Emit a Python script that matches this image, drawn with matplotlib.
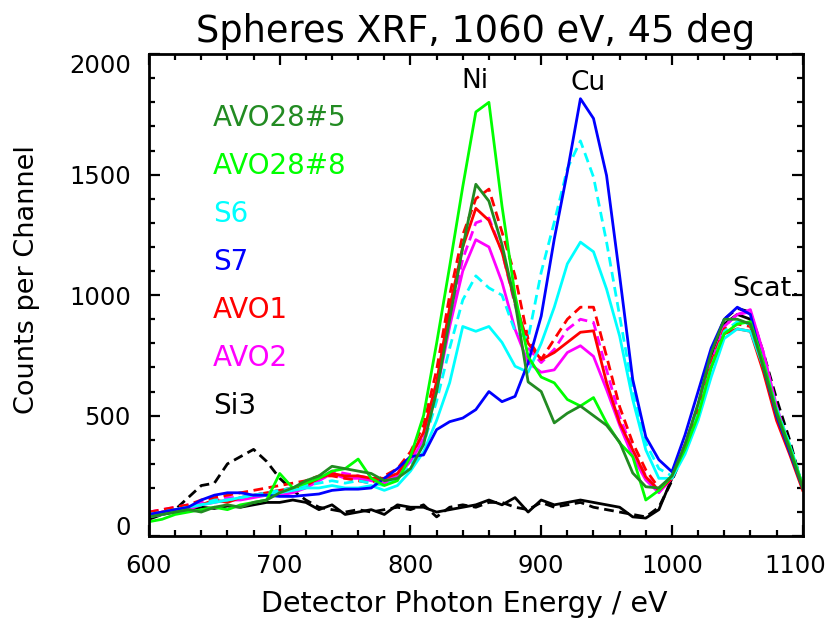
import numpy as np
import matplotlib
matplotlib.use('Agg')
import matplotlib.pyplot as plt
import matplotlib.transforms as mtransforms
from matplotlib.ticker import MultipleLocator

# Energy grid (eV) and counts per channel
energy = np.arange(600, 1101, 10)

avo28_5 = [80, 90, 100, 110, 100, 120, 130, 120, 140, 150,
           180, 200, 230, 250, 290, 280, 270, 260, 230, 240,
           280, 380, 600, 900, 1200, 1460, 1390, 1210, 970, 640,
           600, 470, 510, 540, 500, 460, 390, 262, 205, 200,
           250, 380, 550, 760, 900, 900, 880, 700, 510, 360, 200]
avo28_8 = [60, 70, 90, 100, 110, 120, 110, 130, 140, 150,
           260, 200, 220, 240, 270, 280, 320, 240, 210, 230,
           330, 500, 800, 1120, 1450, 1760, 1800, 1370, 1000, 745,
           660, 636, 567, 540, 575, 470, 387, 330, 150, 190,
           250, 360, 500, 700, 840, 880, 890, 720, 520, 370, 210]
s6 = [80, 90, 110, 120, 130, 140, 150, 160, 170, 170,
      180, 190, 200, 200, 210, 200, 200, 210, 190, 210,
      270, 350, 480, 637, 870, 850, 870, 804, 705, 680,
      800, 950, 1130, 1220, 1180, 1025, 830, 567, 358, 240,
      240, 340, 480, 660, 820, 860, 850, 700, 520, 380, 210]
s6_b = [90, 100, 110, 120, 130, 150, 150, 160, 170, 180,
        190, 200, 210, 220, 230, 220, 230, 220, 210, 240,
        290, 380, 560, 780, 980, 1080, 1030, 1000, 850, 820,
        1095, 1303, 1525, 1640, 1490, 1220, 913, 608, 387, 280,
        250, 360, 510, 700, 850, 890, 880, 720, 530, 380, 210]
s7 = [90, 100, 110, 120, 150, 170, 180, 180, 170, 170,
      165, 165, 170, 175, 190, 195, 195, 200, 240, 280,
      330, 337, 442, 475, 490, 525, 600, 558, 580, 720,
      913, 1233, 1512, 1815, 1733, 1496, 1080, 650, 412, 317,
      267, 420, 600, 780, 900, 950, 920, 700, 500, 350, 200]
avo1 = [90, 100, 110, 120, 130, 150, 140, 160, 170, 180,
        190, 200, 210, 240, 260, 250, 250, 240, 240, 260,
        330, 430, 640, 950, 1200, 1360, 1310, 1180, 970, 800,
        733, 762, 804, 846, 852, 637, 470, 358, 246, 190,
        240, 370, 520, 700, 840, 860, 850, 680, 480, 340, 190]
avo1_b = [100, 110, 120, 130, 150, 160, 170, 180, 190, 200,
          210, 220, 230, 250, 250, 240, 230, 220, 250, 280,
          350, 460, 690, 1000, 1250, 1400, 1440, 1262, 1080, 817,
          733, 817, 900, 950, 950, 746, 537, 387, 275, 200,
          245, 380, 540, 720, 860, 880, 870, 700, 500, 350, 200]
avo2 = [90, 100, 110, 110, 130, 140, 150, 150, 160, 170,
        170, 180, 200, 230, 260, 240, 240, 230, 220, 250,
        310, 400, 600, 870, 1100, 1230, 1200, 1054, 858, 720,
        680, 690, 762, 790, 746, 608, 460, 330, 233, 180,
        240, 380, 540, 720, 870, 920, 940, 760, 540, 370, 210]
avo2_b = [100, 110, 120, 130, 140, 150, 160, 160, 170, 180,
          190, 200, 210, 240, 270, 260, 250, 240, 230, 260,
          330, 420, 620, 900, 1150, 1300, 1320, 1180, 960, 780,
          720, 775, 858, 900, 887, 690, 496, 358, 250, 190,
          245, 370, 530, 720, 870, 920, 930, 760, 530, 360, 205]
si3 = [70, 90, 100, 110, 120, 115, 125, 120, 130, 140,
       140, 150, 140, 110, 130, 90, 100, 110, 90, 130,
       120, 120, 100, 110, 120, 130, 150, 130, 160, 100,
       150, 130, 140, 150, 140, 130, 120, 80, 75, 110,
       240, 370, 540, 740, 880, 920, 900, 720, 520, 360, 200]
si3_b = [80, 90, 110, 160, 210, 220, 300, 330, 360, 310,
         240, 190, 150, 120, 110, 100, 110, 100, 110, 120,
         110, 130, 80, 120, 130, 120, 140, 140, 120, 110,
         140, 120, 130, 140, 120, 110, 100, 90, 80, 120,
         230, 360, 540, 760, 900, 945, 930, 760, 570, 400, 200]

labels = ['AVO28#5', 'AVO28#8', 'S6', 'S7', 'AVO1', 'AVO2', 'Si3']
colors = ['#228B22', '#00FF00', '#00FFFF', '#0000FF', '#FF0000', '#FF00FF', '#000000']

fig = plt.figure(figsize=(8.37, 6.22), dpi=100)
ax = fig.add_axes([0.178, 0.138, 0.781, 0.775])

lw = 2.0
dash = (3.5, 2)
ax.plot(energy, si3_b, color=colors[6], lw=lw, dashes=dash)
ax.plot(energy, si3, color=colors[6], lw=lw)
ax.plot(energy, avo2_b, color=colors[5], lw=lw, dashes=dash)
ax.plot(energy, avo2, color=colors[5], lw=lw)
ax.plot(energy, avo1_b, color=colors[4], lw=lw, dashes=dash)
ax.plot(energy, avo1, color=colors[4], lw=lw)
ax.plot(energy, s6_b, color=colors[2], lw=lw, dashes=dash)
ax.plot(energy, s6, color=colors[2], lw=lw)
ax.plot(energy, s7, color=colors[3], lw=lw)
ax.plot(energy, avo28_8, color=colors[1], lw=lw)
ax.plot(energy, avo28_5, color=colors[0], lw=lw)

ax.set_xlim(600, 1100)
ax.set_ylim(0, 2000)
ax.xaxis.set_major_locator(MultipleLocator(100))
ax.xaxis.set_minor_locator(MultipleLocator(20))
ax.yaxis.set_major_locator(MultipleLocator(500))
ax.yaxis.set_minor_locator(MultipleLocator(100))
ax.tick_params(which='both', direction='in', top=True, right=True, width=1.6, labelsize=17.5, pad=13)
ax.tick_params(which='major', length=8)
ax.tick_params(which='minor', length=4.5)
for sp in ax.spines.values():
    sp.set_linewidth(2.0)

ax.set_title('Spheres XRF, 1060 eV, 45 deg', fontsize=26.5, pad=9)
ax.set_xlabel('Detector Photon Energy / eV', fontsize=20.5)
ax.set_ylabel('Counts per Channel', fontsize=19.5)
ax.xaxis.set_label_coords(0.483, -0.112)
ax.yaxis.set_label_coords(-0.166, 0.533)

# sample labels, stacked in the upper left
for i, (lab, c) in enumerate(zip(labels, colors)):
    ax.text(0.098, 0.867 - i * 0.0996, lab, color=c, fontsize=20,
            transform=ax.transAxes, va='center', ha='left')

ax.text(849, 1887, 'Ni', fontsize=19, ha='center', va='center')
ax.text(936, 1879, 'Cu', fontsize=19, ha='center', va='center')
ax.text(1046, 1025, 'Scat.', fontsize=19.5, ha='left', va='center')

# IDL nudges the end labels inward
fig.canvas.draw()

def nudge(axis, loc, dx, dy):
    for tick in axis.get_major_ticks():
        if abs(tick.get_loc() - loc) < 1e-6:
            lab = tick.label1
            lab.set_transform(lab.get_transform() +
                              mtransforms.ScaledTranslation(dx / 100, dy / 100, fig.dpi_scale_trans))

nudge(ax.yaxis, 0, 0, 11)
nudge(ax.yaxis, 2000, 0, -9)
nudge(ax.xaxis, 1100, -7, 0)

fig.savefig('out.png', dpi=100)
